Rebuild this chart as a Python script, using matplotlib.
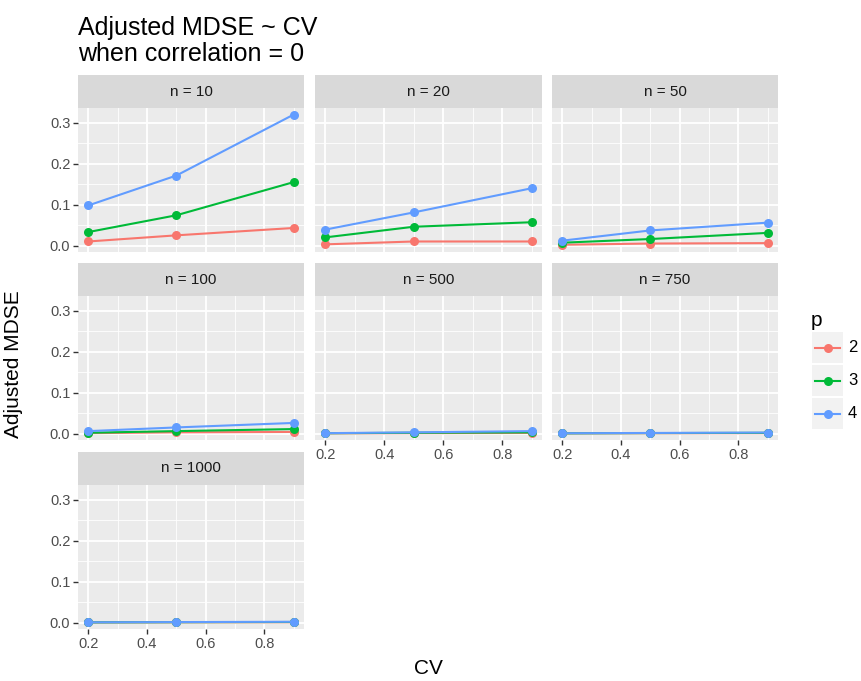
import matplotlib
matplotlib.use("Agg")
import matplotlib.pyplot as plt
from matplotlib.lines import Line2D

plt.rcParams["font.family"] = ["Liberation Sans", "DejaVu Sans"]

# ---- data -------------------------------------------------------------
cv = [0.2, 0.5, 0.9]
sample_sizes = [10, 20, 50, 100, 500, 750, 1000]
p_levels = ["2", "3", "4"]

mdse_p2 = {
    10: [0.010, 0.025, 0.043],
    20: [0.003, 0.010, 0.010],
    50: [0.002, 0.005, 0.006],
    100: [0.001, 0.003, 0.004],
    500: [0.0005, 0.001, 0.0015],
    750: [0.0004, 0.0008, 0.001],
    1000: [0.0003, 0.0006, 0.0008],
}
mdse_p3 = {
    10: [0.033, 0.074, 0.155],
    20: [0.020, 0.046, 0.057],
    50: [0.007, 0.016, 0.031],
    100: [0.002, 0.006, 0.011],
    500: [0.0008, 0.002, 0.003],
    750: [0.0006, 0.0012, 0.0018],
    1000: [0.0005, 0.0009, 0.0014],
}
mdse_p4 = {
    10: [0.098, 0.171, 0.320],
    20: [0.039, 0.081, 0.140],
    50: [0.012, 0.037, 0.056],
    100: [0.006, 0.015, 0.026],
    500: [0.001, 0.003, 0.006],
    750: [0.0008, 0.0015, 0.0025],
    1000: [0.0006, 0.0012, 0.002],
}
series = [mdse_p2, mdse_p3, mdse_p4]
colors = ["#F8766D", "#00BA38", "#619CFF"]

y_ticks = [0.0, 0.1, 0.2, 0.3]
y_minor = [0.05, 0.15, 0.25]
x_ticks = [0.2, 0.4, 0.6, 0.8]
x_minor = [0.3, 0.5, 0.7, 0.9]

# ---- figure / layout --------------------------------------------------
W, H = 862, 681
fig = plt.figure(figsize=(W / 100, H / 100), dpi=100)
fig.patch.set_facecolor("white")


def box(x0, y0, x1, y1):
    """pixel box (top-left origin) -> figure fraction rect"""
    return [x0 / W, 1 - y1 / H, (x1 - x0) / W, (y1 - y0) / H]


col_x = [(78, 304), (315, 542), (552, 778)]
row_strip_top = [75, 263, 452]
strip_h = 33
panel_h = 144

# shared scales with 5% expansion
all_y = [v for s in series for n in sample_sizes for v in s[n]]
ymin, ymax = min(all_y), max(all_y)
ypad = (ymax - ymin) * 0.05
ylim = (ymin - ypad, ymax + ypad)
xpad = (max(cv) - min(cv)) * 0.05
xlim = (min(cv) - xpad, max(cv) + xpad)

ncol = 3
n_panels = len(sample_sizes)
for i, n in enumerate(sample_sizes):
    r, c = divmod(i, ncol)
    x0, x1 = col_x[c]
    st = row_strip_top[r]
    # strip
    sax = fig.add_axes(box(x0, st, x1, st + strip_h))
    sax.set_facecolor("#D9D9D9")
    sax.set_xticks([]); sax.set_yticks([])
    for sp in sax.spines.values():
        sp.set_visible(False)
    sax.text(0.5, 0.5, f"n = {n}", ha="center", va="center",
             fontsize=11, color="#1A1A1A", transform=sax.transAxes)

    ax = fig.add_axes(box(x0, st + strip_h, x1, st + strip_h + panel_h))
    ax.set_facecolor("#EBEBEB")
    for sp in ax.spines.values():
        sp.set_visible(False)
    ax.set_xlim(*xlim)
    ax.set_ylim(*ylim)
    for v in x_minor:
        ax.axvline(v, color="white", lw=0.6, zorder=0)
    for v in y_minor:
        ax.axhline(v, color="white", lw=0.6, zorder=0)
    for v in x_ticks:
        ax.axvline(v, color="white", lw=1.3, zorder=0)
    for v in y_ticks:
        ax.axhline(v, color="white", lw=1.3, zorder=0)

    for s, col in zip(series, colors):
        ax.plot(cv, s[n], color=col, lw=1.5, marker="o", ms=6.5,
                markeredgewidth=0, zorder=3, clip_on=False)

    ax.set_xticks(x_ticks)
    ax.set_yticks(y_ticks)
    ax.tick_params(axis="both", length=3.5, width=1.0, color="#333333",
                   labelsize=10.5, labelcolor="#4D4D4D", pad=2)
    ax.set_yticklabels([f"{v:.1f}" for v in y_ticks])
    ax.set_xticklabels([f"{v:.1f}" for v in x_ticks])
    if c != 0:
        ax.tick_params(axis="y", left=False, labelleft=False)
    # bottom-most panel in each column shows x axis
    below = i + ncol
    if below < n_panels:
        ax.tick_params(axis="x", bottom=False, labelbottom=False)

# ---- titles -----------------------------------------------------------
fig.text(78 / W, 1 - 35 / H, "Adjusted MDSE ~ CV",
         ha="left", va="baseline", fontsize=18, color="black")
fig.text(78 / W, 1 - 61 / H, "when correlation = 0",
         ha="left", va="baseline", fontsize=18, color="black")
fig.text(428 / W, 1 - 669 / H, "CV", ha="center", va="center",
         fontsize=15, color="black")
fig.text(14 / W, 1 - 364 / H, "Adjusted MDSE", ha="center", va="center",
         rotation=90, fontsize=15, color="black")

# ---- legend -----------------------------------------------------------
fig.text(811 / W, 1 - 320 / H, "p", ha="left", va="center",
         fontsize=15, color="black")
key_tops = [332, 365, 398]
for kt, lab, col in zip(key_tops, p_levels, colors):
    kax = fig.add_axes(box(812, kt, 843, kt + 31))
    kax.set_xlim(0, 1); kax.set_ylim(0, 1)
    kax.set_facecolor("#F2F2F2")
    kax.set_xticks([]); kax.set_yticks([])
    for sp in kax.spines.values():
        sp.set_visible(False)
    kax.add_line(Line2D([0.1, 0.9], [0.5, 0.5], color=col, lw=1.5))
    kax.plot([0.5], [0.5], marker="o", ms=6.5, color=col, markeredgewidth=0)
    fig.text(848 / W, 1 - (kt + 15.5) / H, lab, ha="left", va="center",
             fontsize=12, color="black")

fig.savefig("out.png", dpi=100)
